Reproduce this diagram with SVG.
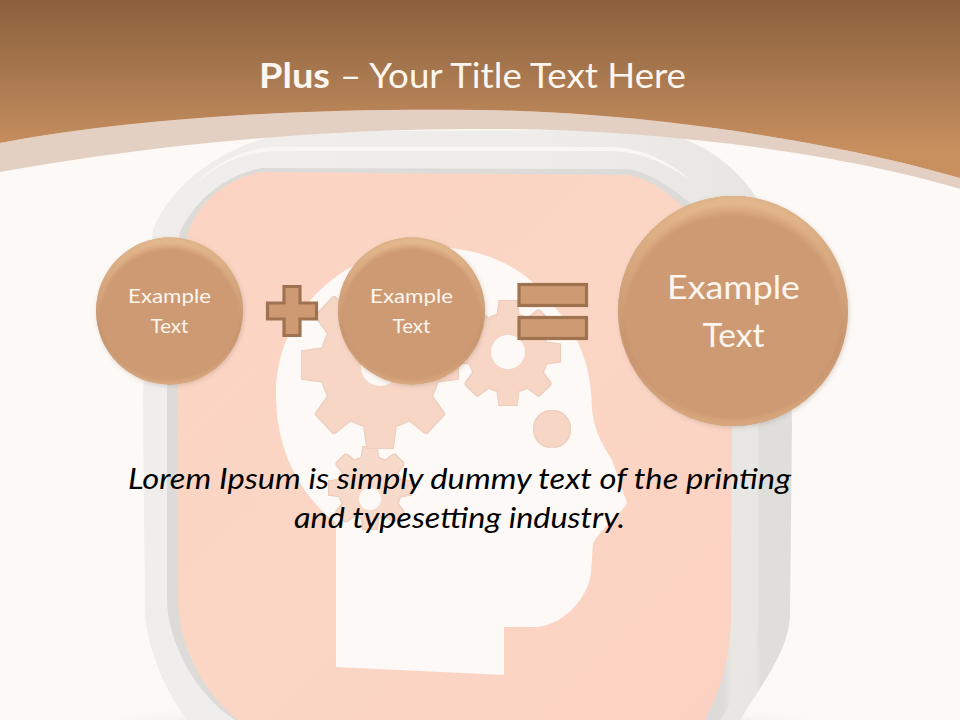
<svg xmlns="http://www.w3.org/2000/svg" xmlns:xlink="http://www.w3.org/1999/xlink" width="960" height="720" viewBox="0 0 960 720">
<style>
.t{font-family:Lato,"Liberation Sans",sans-serif}
.w{fill:#fdf6ef;text-anchor:middle}
.sym{fill:#cd9a73;stroke:#9f7350;stroke-width:3.2}
.gear{fill:#f8d6c6}
.hole{fill:#fdf9f6}
.base{fill:#cd9a73}
.hi{fill:url(#topLight)}
.lo{fill:url(#bottomLight)}
.rm{fill:url(#rim)}
</style>
<defs>
<linearGradient id="hdr" gradientUnits="userSpaceOnUse" x1="0" y1="0" x2="0" y2="150"><stop offset="0" stop-color="#8b603c"/><stop offset=".5" stop-color="#a8784f"/><stop offset="1" stop-color="#c88f5f"/></linearGradient>
<linearGradient id="pink" x1="0" y1="0" x2="1" y2="1"><stop offset="0" stop-color="#fcd3c3"/><stop offset=".5" stop-color="#fbd6c5"/><stop offset="1" stop-color="#fcd1c2"/></linearGradient>
<linearGradient id="frame" x1="0" y1="0" x2="1" y2="0"><stop offset="0" stop-color="#efeeec"/><stop offset=".6" stop-color="#eeedeb"/><stop offset=".945" stop-color="#e7e6e3"/><stop offset=".95" stop-color="#dfdedb"/><stop offset="1" stop-color="#dfdedb"/></linearGradient>
<linearGradient id="rimband" x1="0" y1="0" x2="1" y2="0"><stop offset="0" stop-color="#dcdbd8"/><stop offset=".94" stop-color="#dcdbd8"/><stop offset=".955" stop-color="#e9e7e4"/><stop offset="1" stop-color="#e9e7e4"/></linearGradient>
<radialGradient id="topLight" cx=".5" cy=".56" r=".56"><stop offset=".84" stop-color="#f3c99c" stop-opacity="0"/><stop offset="1" stop-color="#f3c99c"/></radialGradient>
<radialGradient id="bottomLight" cx=".5" cy=".46" r=".54"><stop offset=".93" stop-color="#eab98d" stop-opacity="0"/><stop offset="1" stop-color="#eab98d"/></radialGradient>
<radialGradient id="rim"><stop offset=".93" stop-color="#a97a55" stop-opacity="0"/><stop offset="1" stop-color="#a0724e" stop-opacity=".25"/></radialGradient>
<filter id="sh" x="-15%" y="-15%" width="130%" height="130%"><feDropShadow dx="1" dy="1.5" stdDeviation="2" flood-color="#8a7565" flood-opacity=".3"/></filter>
<filter id="blur" x="-20%" y="-100%" width="140%" height="300%"><feGaussianBlur stdDeviation="9"/></filter>
<filter id="edge" x="-5%" y="-5%" width="110%" height="110%"><feMorphology in="SourceAlpha" operator="dilate" radius="1.2" result="d"/><feFlood flood-color="#eccdbd"/><feComposite in2="d" operator="in" result="c"/><feMerge><feMergeNode in="c"/><feMergeNode in="SourceGraphic"/></feMerge></filter>
<polygon id="tooth" points=".55,-.2 .74,-.2 1,-.165 1,.165 .74,.2 .55,.2"/>
<g id="gearShape">
<circle r=".76"/>
<use xlink:href="#tooth"/><use xlink:href="#tooth" transform="rotate(45)"/><use xlink:href="#tooth" transform="rotate(90)"/><use xlink:href="#tooth" transform="rotate(135)"/><use xlink:href="#tooth" transform="rotate(180)"/><use xlink:href="#tooth" transform="rotate(225)"/><use xlink:href="#tooth" transform="rotate(270)"/><use xlink:href="#tooth" transform="rotate(315)"/>
</g>
</defs>

<rect width="960" height="720" fill="#fdf9f6"/>

<g id="background-art">
<ellipse cx="462" cy="738" rx="350" ry="22" fill="#dcd8d4" opacity=".8" filter="url(#blur)"/>
<path id="frame-outer" fill="url(#frame)" d="M300 131 L640 130 C700 132 755 175 775 235 C788 290 790 360 792 423 L790 617 C788 650 765 680 740 720 L187 720 C165 690 148 650 145 615 L143 400 C145 320 148 270 153 230 C170 185 225 140 300 131Z"/>
<path fill="#f8f7f5" d="M270 147 L610 147 C640 148 665 158 690 180 C660 160 640 152 610 151 L270 151 C240 154 215 165 195 185 C212 165 240 150 270 147Z"/>
<path id="rim-band" fill="url(#rimband)" d="M262 168 L628 169 C665 175 735 225 758 320 L758 620 C755 660 735 700 720 720 L235 720 C195 695 167 640 167 600 L167 390 C168 320 172 270 180 232 C195 200 225 175 262 168Z"/>
<path id="pink-face" fill="url(#pink)" d="M262 172 L630 175 C660 182 700 215 715 255 C728 300 732 380 732 430 L731 620 C730 660 720 690 705 720 L238 720 C200 690 178 640 178 600 L177 390 C178 320 181 270 187 237 C195 205 225 178 262 172Z"/>
</g>

<path id="head" fill="#fdf9f6" d="M336 523 C300 495 276 450 276 395 C276 310 345 247 430 247 C480 247 525 265 553 305 C580 335 592 370 592 410 C595 435 605 448 612 460 L627 503 C620 515 600 530 593 543 L591 573 C588 600 560 627 535 627 L504 627 L504 675 L336 667Z"/>

<g id="gears">
<g filter="url(#edge)"><use xlink:href="#gearShape" class="gear" transform="translate(370 488) scale(41)" style="fill:#f8dacb"/></g>
<circle class="hole" cx="370" cy="499" r="11"/>
<g filter="url(#edge)"><use xlink:href="#gearShape" class="gear" transform="translate(380 365) scale(78 83)"/></g>
<circle class="hole" cx="380" cy="367" r="19"/>
<g filter="url(#edge)"><use xlink:href="#gearShape" class="gear" transform="translate(508 353) scale(52)"/></g>
<circle class="hole" cx="508" cy="352" r="17"/>
<g filter="url(#edge)"><circle class="gear" cx="552" cy="429" r="18"/></g>
</g>

<path id="header-band" fill="#e4d0c3" d="M0 143 C150 115 330 108 480 110 C640 112 830 140 960 178 L960 189 C830 150 640 128 480 129 C330 128 150 145 0 172Z"/>
<path id="header" fill="url(#hdr)" d="M0 0 H960 V178 C830 140 640 112 480 110 C330 108 150 115 0 143Z"/>

<text class="t" y="88" font-size="35" fill="#fdf6ef"><tspan x="259" font-weight="700" textLength="71" lengthAdjust="spacingAndGlyphs">Plus</tspan><tspan x="340" textLength="346" lengthAdjust="spacingAndGlyphs">– Your Title Text Here</tspan></text>

<g id="node-example-1">
<circle class="base" cx="169.5" cy="311" r="73.5" filter="url(#sh)"/>
<circle class="hi" cx="169.5" cy="311" r="73.5"/>
<circle class="lo" cx="169.5" cy="311" r="73.5"/>
<circle class="rm" cx="169.5" cy="311" r="73.5"/>
<text class="t w" x="169.5" y="303" font-size="20" textLength="83" lengthAdjust="spacingAndGlyphs">Example</text>
<text class="t w" x="169.5" y="333" font-size="20" textLength="38" lengthAdjust="spacingAndGlyphs">Text</text>
</g>

<g id="node-plus">
<path class="sym" d="M284 286.5 H300 V303 H316.5 V319 H300 V335.5 H284 V319 H267.5 V303 H284Z"/>
</g>

<g id="node-example-2">
<circle class="base" cx="411.5" cy="311" r="73.5" filter="url(#sh)"/>
<circle class="hi" cx="411.5" cy="311" r="73.5"/>
<circle class="lo" cx="411.5" cy="311" r="73.5"/>
<circle class="rm" cx="411.5" cy="311" r="73.5"/>
<text class="t w" x="411.5" y="303" font-size="20" textLength="83" lengthAdjust="spacingAndGlyphs">Example</text>
<text class="t w" x="411.5" y="333" font-size="20" textLength="38" lengthAdjust="spacingAndGlyphs">Text</text>
</g>

<g id="node-equals">
<rect class="sym" x="519" y="284.5" width="67.5" height="21"/>
<rect class="sym" x="519" y="317.5" width="67.5" height="21"/>
</g>

<g id="node-example-3">
<circle class="base" cx="733" cy="311" r="115" filter="url(#sh)"/>
<circle class="hi" cx="733" cy="311" r="115"/>
<circle class="lo" cx="733" cy="311" r="115"/>
<circle class="rm" cx="733" cy="311" r="115"/>
<text class="t w" x="733.5" y="299" font-size="33" textLength="133" lengthAdjust="spacingAndGlyphs">Example</text>
<text class="t w" x="733.5" y="347" font-size="33" textLength="62" lengthAdjust="spacingAndGlyphs">Text</text>
</g>

<g id="connectors"/>

<g id="caption" class="t" font-style="italic" font-size="28" fill="#000">
<text x="128" y="489" textLength="663" lengthAdjust="spacingAndGlyphs">Lorem Ipsum is simply dummy text of the printing</text>
<text x="294" y="528" textLength="331" lengthAdjust="spacingAndGlyphs">and typesetting industry.</text>
</g>
</svg>
